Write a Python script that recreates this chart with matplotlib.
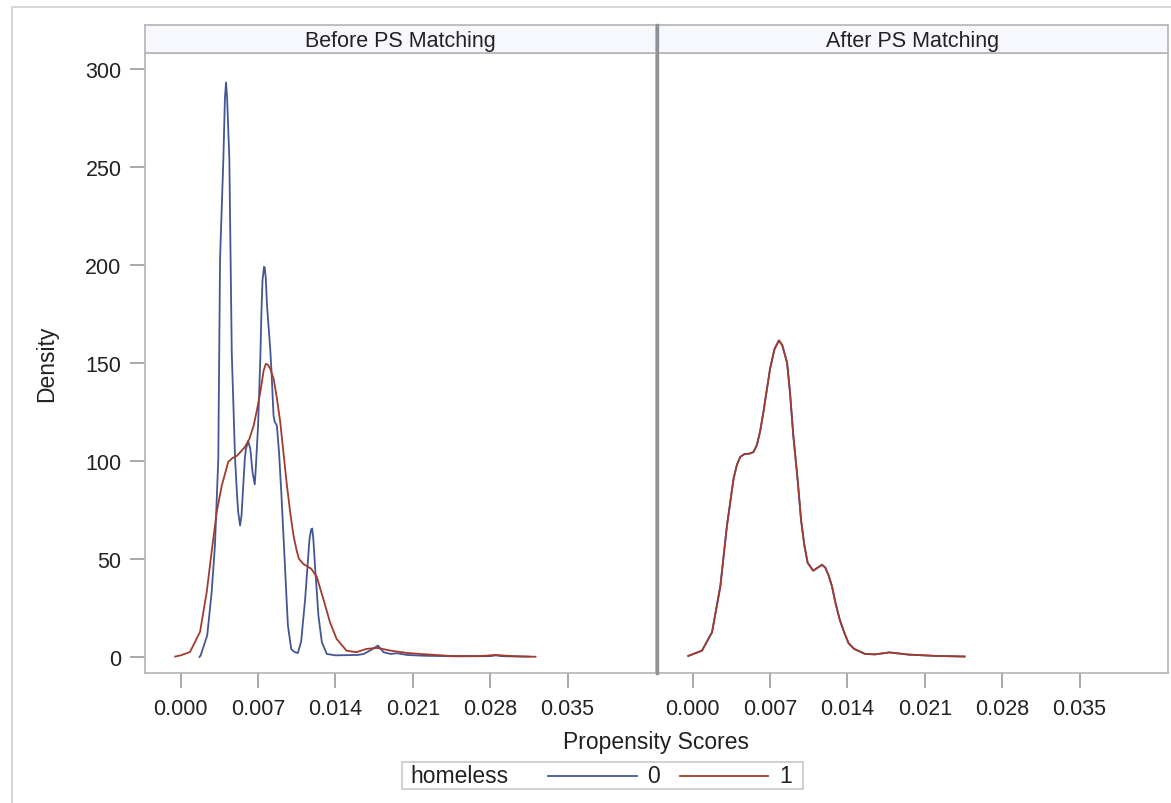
import matplotlib
matplotlib.use("Agg")
import matplotlib.pyplot as plt
from matplotlib.patches import Rectangle
from matplotlib.lines import Line2D

plt.rcParams['font.family'] = ['Liberation Sans', 'DejaVu Sans']

# ---------------- data ----------------
panels = ["Before PS Matching", "After PS Matching"]
group_labels = ["0", "1"]
legend_title = "homeless"
x_ticks = [0.000, 0.007, 0.014, 0.021, 0.028, 0.035]
y_ticks = [0, 50, 100, 150, 200, 250, 300]

before_x0 = [0.0017, 0.0018, 0.0024, 0.0028, 0.0031, 0.0034, 0.00356, 0.00386, 0.0040,
             0.0041, 0.0042, 0.0044, 0.00462, 0.00492, 0.0051, 0.0052, 0.00537, 0.0055,
             0.0058, 0.0059, 0.0061, 0.0063, 0.0065, 0.0067, 0.0068, 0.0070, 0.0072,
             0.0073, 0.0074, 0.00754, 0.0076, 0.0077, 0.0078, 0.0081, 0.0082, 0.0084,
             0.0085, 0.0087, 0.0089, 0.0091, 0.0094, 0.0096, 0.0097, 0.0099, 0.0100,
             0.0103, 0.0106, 0.0109, 0.01126, 0.01165, 0.0118, 0.0119, 0.0120, 0.01215,
             0.01246, 0.01277, 0.01322, 0.0140, 0.0160, 0.01654, 0.0172, 0.01784,
             0.01835, 0.0190, 0.01956, 0.02047, 0.0220, 0.0250, 0.0280, 0.0285, 0.0290,
             0.0315]
before_y0 = [0.0, 0.7, 11, 33, 57, 101, 203, 254, 285,
             293, 285, 254, 155, 101, 82, 74, 67, 72,
             101, 106, 110, 106, 94, 88, 97, 118, 152,
             175, 192, 199, 198.5, 193, 180, 157, 147, 123,
             120, 118, 104, 84, 50, 27, 16, 8, 4,
             2.5, 2, 8, 29.6, 60, 65, 65.5, 60, 46.6,
             21, 7.5, 1.5, 0.8, 1.0, 1.5, 3.5, 5.8,
             2.4, 1.5, 1.9, 1.0, 0.6, 0.3, 0.4, 0.8, 0.4,
             0.1]

before_x1 = [-0.0005, 0.0, 0.00084, 0.00175, 0.00235, 0.0028, 0.00326, 0.0037, 0.0043,
             0.0047, 0.0051, 0.0058, 0.0062, 0.0066, 0.0069, 0.0072, 0.0075, 0.0077,
             0.0079, 0.0081, 0.0084, 0.0087, 0.0090, 0.0093, 0.0096, 0.0099, 0.0102,
             0.0105, 0.0107, 0.0110, 0.0112, 0.0118, 0.0123, 0.0129, 0.0135, 0.0141,
             0.0150, 0.0159, 0.0168, 0.0178, 0.0190, 0.0205, 0.0217, 0.0244, 0.0270,
             0.0285, 0.0300, 0.0321]
before_y1 = [0.2, 0.8, 2.5, 12.8, 33, 53.6, 74, 87, 99.5,
             101.5, 102.6, 107, 111, 118, 126, 135, 146, 149.5,
             149, 147, 142, 132, 120, 104, 88, 74, 62,
             54, 50, 48, 47, 45, 41, 29.6, 17.8, 9.2,
             3.2, 2.4, 4.1, 4.6, 3.2, 2.0, 1.5, 0.5, 0.4,
             1.0, 0.4, 0.1]

after_x = [-0.0004, 0.00084, 0.00175, 0.0025, 0.0031, 0.0037, 0.0040, 0.0043, 0.0047,
           0.0051, 0.0055, 0.0058, 0.0061, 0.0064, 0.0067, 0.0070, 0.0074, 0.0078,
           0.0081, 0.00854, 0.0088, 0.0091, 0.0095, 0.0098, 0.0101, 0.0104, 0.0109,
           0.0113, 0.0117, 0.0120, 0.0123, 0.0126, 0.0129, 0.0133, 0.0137, 0.0141,
           0.0146, 0.0156, 0.0165, 0.0178, 0.0195, 0.0220, 0.0246]
after_y0 = [0.5, 3.2, 12.6, 36, 67, 91, 98, 102, 103.5,
            103.6, 104.5, 108, 115, 125, 136, 147, 157, 161.4,
            159, 150, 135, 113, 90, 70, 57, 48, 44,
            45.5, 47, 45.5, 41.5, 36, 28, 19, 12.6, 7,
            4.1, 1.5, 1.3, 2.3, 1.2, 0.5, 0.2]
after_y1 = [0.5, 3.2, 12.6, 36, 67, 91, 98, 102, 103.5,
            103.6, 104.5, 108, 115, 125, 136, 147, 157, 161.4,
            159, 150, 135, 113, 90, 70, 57, 48, 44,
            45.5, 47, 45.5, 41.5, 36, 28, 19, 12.6, 7,
            4.1, 1.5, 1.3, 2.3, 1.2, 0.5, 0.2]

series = [
    [(before_x0, before_y0), (before_x1, before_y1)],
    [(after_x, after_y0), (after_x, after_y1)],
]
colors = ["#445694", "#A23A2E"]

# ---------------- layout ----------------
W, H = 1171, 804
fig = plt.figure(figsize=(W / 100, H / 100), dpi=100)

def fx(px):
    return px / W

def fy(py):
    return 1 - py / H

panel_px = [(145, 656), (657, 1168)]
top_px, bot_px = 54, 674
head_top = 26

frame_col = "#b4b4b4"
tick_col = "#9a9a9a"
txt_col = "#222222"

# outer frame
fig.add_artist(Rectangle((fx(12), fy(806)), fx(1172) - fx(12), fy(8) - fy(806),
                         transform=fig.transFigure, fill=False,
                         edgecolor="#d0d0d0", lw=1.2))

for i, (l, r) in enumerate(panel_px):
    ax = fig.add_axes([fx(l), fy(bot_px), fx(r) - fx(l), fy(top_px) - fy(bot_px)])
    for (xs, ys), c in zip(series[i], colors):
        ax.plot(xs, ys, color=c, lw=1.3, solid_joinstyle="round")
    ax.set_xlim(-0.00323, 0.0430)
    ax.set_ylim(-8.2, 308)
    ax.set_xticks(x_ticks)
    ax.set_xticklabels([f"{t:.3f}" for t in x_ticks])
    ax.set_yticks(y_ticks)
    ax.tick_params(axis="both", colors=tick_col, labelcolor=txt_col,
                   labelsize=15.5, length=11, width=1.2)
    ax.tick_params(axis="x", pad=7)
    ax.tick_params(axis="y", pad=6)
    for s in ax.spines.values():
        s.set_color(frame_col)
        s.set_linewidth(1.2)
    if i == 1:
        ax.tick_params(axis="y", left=False, labelleft=False)
    # header strip
    hx = fig.add_axes([fx(l), fy(top_px), fx(r) - fx(l), fy(head_top) - fy(top_px)])
    hx.set_facecolor("#f7f8fd")
    hx.set_xticks([])
    hx.set_yticks([])
    for s in hx.spines.values():
        s.set_color(frame_col)
        s.set_linewidth(1.2)
    hx.text(0.5, 0.45, panels[i], ha="center", va="center", fontsize=15.5,
            color=txt_col, transform=hx.transAxes)

# thick separator between panels
fig.add_artist(Line2D([fx(656.5), fx(656.5)], [fy(bot_px), fy(head_top)],
                      transform=fig.transFigure, color="#8e9296", lw=2.4))

# axis labels
fig.text(fx(47), fy((top_px + bot_px) / 2), "Density", rotation=90, ha="center",
         va="center", fontsize=16.5, color=txt_col)
fig.text(fx(656), fy(743), "Propensity Scores", ha="center", va="center",
         fontsize=16.5, color=txt_col)

# legend
fig.add_artist(Rectangle((fx(402), fy(790)), fx(803) - fx(402), fy(763) - fy(790),
                         transform=fig.transFigure, fill=False,
                         edgecolor="#c8c8c8", lw=1.2))
ly = fy(777)
fig.text(fx(410), ly, legend_title, ha="left", va="center", fontsize=16.5,
         color=txt_col)
fig.add_artist(Line2D([fx(548), fx(637)], [ly, ly], transform=fig.transFigure,
                      color=colors[0], lw=1.3))
fig.text(fx(653), ly, group_labels[0], ha="center", va="center", fontsize=16.5,
         color=txt_col)
fig.add_artist(Line2D([fx(680), fx(768)], [ly, ly], transform=fig.transFigure,
                      color=colors[1], lw=1.3))
fig.text(fx(786), ly, group_labels[1], ha="center", va="center", fontsize=16.5,
         color=txt_col)

fig.savefig("out.png", dpi=100)
